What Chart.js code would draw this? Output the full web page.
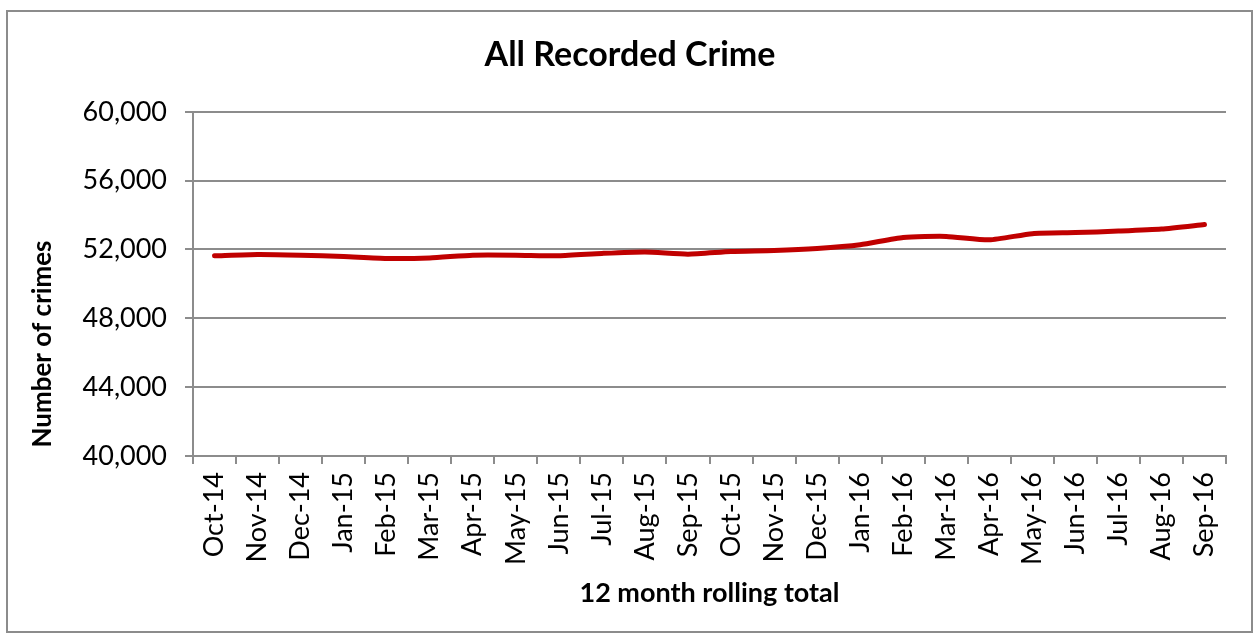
<!DOCTYPE html>
<html>
<head>
<meta charset="utf-8">
<script src="https://cdn.jsdelivr.net/npm/chart.js@4"></script>
<style>
  html, body { margin: 0; padding: 0; background: #fff; }
  #wrap { width: 1255px; height: 634px; }
</style>
</head>
<body>
<div id="wrap"><canvas id="crimeChart" width="1255" height="634"></canvas></div>
<script>
var months = ["Oct-14", "Nov-14", "Dec-14", "Jan-15", "Feb-15", "Mar-15", "Apr-15", "May-15",
  "Jun-15", "Jul-15", "Aug-15", "Sep-15", "Oct-15", "Nov-15", "Dec-15", "Jan-16",
  "Feb-16", "Mar-16", "Apr-16", "May-16", "Jun-16", "Jul-16", "Aug-16", "Sep-16"];
var crimes = [51630, 51710, 51670, 51590, 51480, 51510, 51670, 51670,
  51630, 51770, 51860, 51730, 51880, 51940, 52060, 52280,
  52700, 52760, 52560, 52920, 52980, 53070, 53190, 53450];
var yTicks = [40000, 44000, 48000, 52000, 56000, 60000];
var yTitle = "Number of crimes";

var font = "Lato, 'Open Sans', sans-serif";
var gridGrey = "#8c8c8c";

// outer frame round the whole chart, and the y title (Excel centres it
// on the axis with its labels, a bit lower than Chart.js would)
var frame = {
  id: "frame",
  beforeDraw: function(chart) {
    var c = chart.ctx;
    c.save();
    c.strokeStyle = gridGrey;
    c.lineWidth = 2;
    c.strokeRect(7, 11, 1245, 621);
    c.restore();
  },
  afterDraw: function(chart) {
    var c = chart.ctx;
    c.save();
    c.translate(43, 344);
    c.rotate(-Math.PI / 2);
    c.fillStyle = "#000";
    c.font = "bold 26px " + font;
    c.textAlign = "center";
    c.textBaseline = "middle";
    c.fillText(yTitle, 0, 0);
    c.restore();
  }
};

var ctx = document.getElementById("crimeChart").getContext("2d");
var myChart = new Chart(ctx, {
  type: "line",
  plugins: [frame],
  data: {
    labels: months,
    datasets: [{
      label: "All Recorded Crime",
      data: crimes,
      borderColor: "#C00000",
      borderWidth: 5,
      borderCapStyle: "round",
      pointRadius: 0,
      tension: 0.2,
      fill: false
    }]
  },
  options: {
    responsive: false,
    animation: false,
    layout: { padding: { left: 34, right: 29, top: 10, bottom: 20 } },
    plugins: {
      legend: { display: false },
      tooltip: { enabled: false },
      title: {
        display: true,
        text: "All Recorded Crime",
        color: "#000",
        font: { family: font, size: 34, weight: "bold" },
        padding: { top: 25, bottom: 36 }
      }
    },
    scales: {
      x: {
        offset: true,
        grid: {
          offset: true,
          drawOnChartArea: false,
          color: gridGrey,
          lineWidth: 2,
          tickLength: 8
        },
        border: { color: gridGrey, width: 2 },
        ticks: {
          color: "#000",
          font: { family: font, size: 27 },
          minRotation: 90,
          maxRotation: 90,
          autoSkip: false,
          padding: 8
        },
        title: {
          display: true,
          text: "12 month rolling total",
          color: "#000",
          font: { family: font, size: 27, weight: "bold" },
          padding: { top: 0, bottom: 5 }
        },
        afterFit: function(scale) { scale.height = 158; }
      },
      y: {
        min: 40000,
        max: 60000,
        grid: {
          color: gridGrey,
          lineWidth: 2,
          tickLength: 8
        },
        border: { color: gridGrey, width: 2 },
        afterBuildTicks: function(scale) {
          scale.ticks = yTicks.map(function(v) { return { value: v }; });
        },
        ticks: {
          color: "#000",
          font: { family: font, size: 27 },
          padding: 18,
          callback: function(v) { return v.toLocaleString("en-US"); }
        },
        afterFit: function(scale) { scale.width = 159; }
      }
    }
  }
});
</script>
</body>
</html>
